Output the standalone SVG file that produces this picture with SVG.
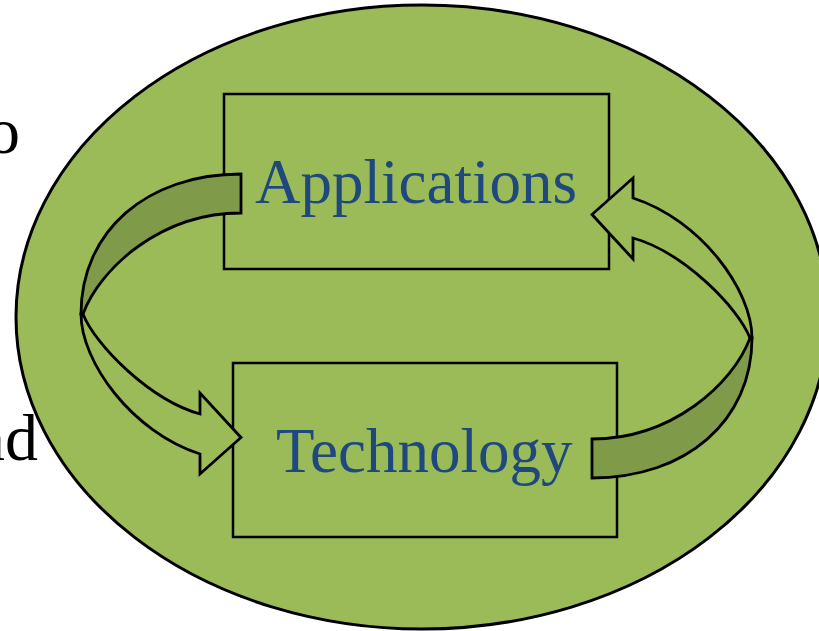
<svg xmlns="http://www.w3.org/2000/svg" width="819" height="631" viewBox="0 0 819 631">
  <style>
    .bg { fill: #9BBB59; stroke: #000; stroke-width: 3; }
    .box { fill: none; stroke: #000; stroke-width: 2.5; }
    .back { fill: #7F9A48; stroke: #000; stroke-width: 2.8; stroke-linejoin: miter; }
    .front { fill: #9BBB59; stroke: #000; stroke-width: 2.8; stroke-linejoin: miter; }
    .label { font-family: "Liberation Serif", "Times New Roman", serif; font-size: 63px; fill: #1F497D; }
    .frag { font-family: "Liberation Serif", "Times New Roman", serif; font-size: 66px; fill: #000; }
  </style>
  <defs>
    <g id="curvedArrow">
      <path class="back" d="M241,174 C147,174 81,231 81,314 L83,314 C100,268 161,213 241,213 Z"/>
      <path class="front" d="M81,314 C81,362 132,432 200,454 L200,474 L241,437.5 L200,393 L200,414 C150,400 95,345 83,314 Z"/>
    </g>
  </defs>

  <g id="fragments">
    <text class="frag" x="20" y="153" text-anchor="end">o</text>
    <text class="frag" x="38" y="460" text-anchor="end">nd</text>
  </g>

  <g id="background">
    <ellipse class="bg" cx="422" cy="317" rx="406" ry="312"/>
  </g>

  <g id="applications">
    <rect class="box" x="224" y="94" width="385" height="175"/>
  </g>

  <g id="technology">
    <rect class="box" x="233" y="363" width="384" height="174"/>
  </g>

  <g id="connectors">
    <use href="#curvedArrow"/>
    <use href="#curvedArrow" transform="rotate(180 416.5 326)"/>
  </g>

  <g id="labels">
    <text class="label" x="255" y="203">Applications</text>
    <text class="label" x="276" y="472">Technology</text>
  </g>
</svg>
